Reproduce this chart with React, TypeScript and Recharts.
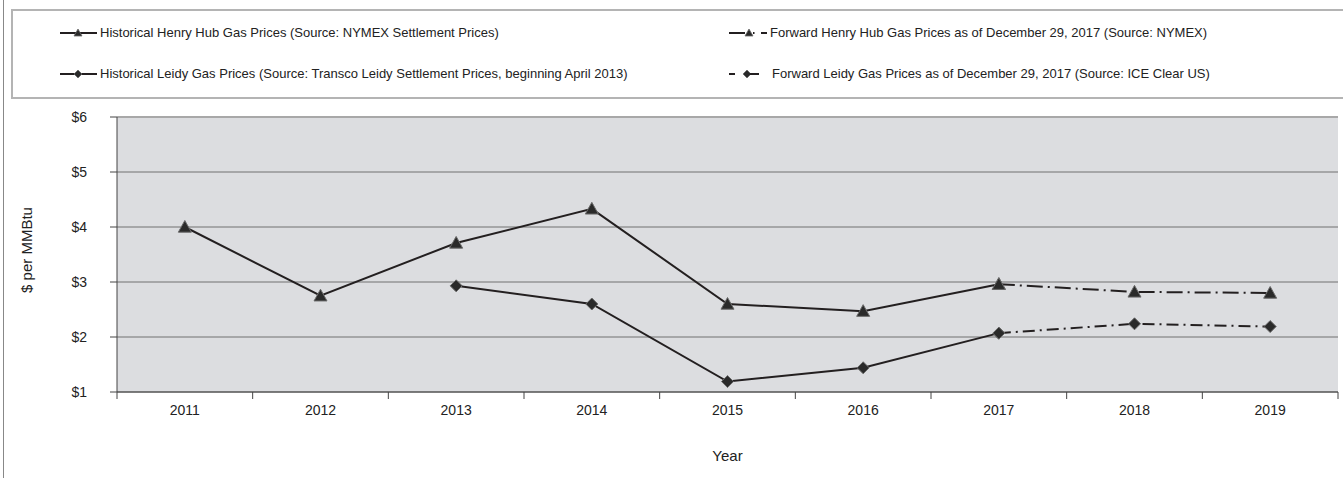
import React from 'react';
import { ComposedChart, Line, XAxis, YAxis, CartesianGrid, ReferenceLine } from 'recharts';

const years = ['2011', '2012', '2013', '2014', '2015', '2016', '2017', '2018', '2019'];
const henryHistorical = [4.0, 2.75, 3.71, 4.33, 2.6, 2.47, 2.96, null, null];
const leidyHistorical = [null, null, 2.93, 2.6, 1.19, 1.44, 2.07, null, null];
const henryForward = [null, null, null, null, null, null, 2.96, 2.82, 2.8];
const leidyForward = [null, null, null, null, null, null, 2.07, 2.24, 2.19];
const yTicks = [1, 2, 3, 4, 5, 6];

const legendLabels = {
  henryHist: 'Historical Henry Hub Gas Prices (Source: NYMEX Settlement Prices)',
  leidyHist: 'Historical Leidy Gas Prices (Source: Transco Leidy Settlement Prices, beginning April 2013)',
  henryFwd: 'Forward Henry Hub Gas Prices as of December 29, 2017 (Source: NYMEX)',
  leidyFwd: 'Forward Leidy Gas Prices as of December 29, 2017 (Source: ICE Clear US)',
};

const data = years.map((year, i) => ({
  year,
  henryHist: henryHistorical[i],
  leidyHist: leidyHistorical[i],
  henryFwd: henryForward[i],
  leidyFwd: leidyForward[i],
}));

const W = 1343;
const H = 478;
const PLOT_LEFT = 117;
const PLOT_RIGHT = 1338;
const PLOT_TOP = 117;
const PLOT_BOTTOM = 392;
const FONT = '"Liberation Sans", Arial, sans-serif';
const LINE = '#231f20';
const MARK_FILL = '#2a2a2a';
const MARK_STROKE = '#6a6a6a';

const Triangle = (props: any) => {
  const { cx, cy, index } = props;
  if (cx == null || cy == null || props.value == null) return <g key={`t${index}`} />;
  const s = 6.5;
  return (
    <polygon
      key={`t${index}`}
      points={`${cx},${cy - s} ${cx - s},${cy + s * 0.8} ${cx + s},${cy + s * 0.8}`}
      fill={MARK_FILL}
      stroke={MARK_STROKE}
      strokeWidth={1}
    />
  );
};

const Diamond = (props: any) => {
  const { cx, cy, index } = props;
  if (cx == null || cy == null || props.value == null) return <g key={`d${index}`} />;
  const s = 6;
  return (
    <polygon
      key={`d${index}`}
      points={`${cx},${cy - s} ${cx + s},${cy} ${cx},${cy + s} ${cx - s},${cy}`}
      fill={MARK_FILL}
      stroke={MARK_STROKE}
      strokeWidth={1}
    />
  );
};

const XTick = (props: any) => {
  const { x, y, payload, index } = props;
  const band = (PLOT_RIGHT - PLOT_LEFT) / years.length;
  return (
    <g>
      <line x1={x - band / 2} x2={x - band / 2} y1={y} y2={y + 7} stroke="#444" strokeWidth={1} />
      {index === years.length - 1 && (
        <line x1={x + band / 2} x2={x + band / 2} y1={y} y2={y + 7} stroke="#444" strokeWidth={1} />
      )}
      <text x={x} y={y + 23} textAnchor="middle" fontSize={14} fill="#222" fontFamily={FONT}>
        {payload.value}
      </text>
    </g>
  );
};

const YTick = (props: any) => {
  const { y, payload } = props;
  return (
    <text x={PLOT_LEFT - 30} y={y + 5} textAnchor="end" fontSize={14} fill="#222" fontFamily={FONT}>
      {`$${payload.value}`}
    </text>
  );
};

const LegendTri = ({ x, y }: { x: number; y: number }) => (
  <polygon points={`${x},${y - 4} ${x - 4},${y + 3} ${x + 4},${y + 3}`} fill={MARK_FILL} stroke={MARK_STROKE} strokeWidth={0.8} />
);
const LegendDia = ({ x, y }: { x: number; y: number }) => (
  <polygon points={`${x},${y - 4} ${x + 4},${y} ${x},${y + 4} ${x - 4},${y}`} fill={MARK_FILL} stroke={MARK_STROKE} strokeWidth={0.8} />
);

const textStyle: React.CSSProperties = {
  position: 'absolute',
  fontFamily: FONT,
  fontSize: 13,
  color: '#222',
  whiteSpace: 'nowrap',
  lineHeight: '14px',
};

export default function App() {
  const midY = 250;
  return (
    <div style={{ position: 'absolute', left: 0, top: 0, width: W, height: H, background: '#fff', overflow: 'hidden' }}>
      <div style={{ position: 'absolute', left: 3, top: 0, width: 1, height: H, background: '#888' }} />
      <div
        style={{
          position: 'absolute',
          left: 11,
          top: 9,
          width: W,
          height: 86,
          borderTop: '2px solid #b4b4b4',
          borderLeft: '2px solid #b4b4b4',
          borderBottom: '2px solid #b4b4b4',
        }}
      />
      <svg style={{ position: 'absolute', left: 0, top: 0 }} width={W} height={100}>
        <line x1={60} x2={97} y1={33} y2={33} stroke={LINE} strokeWidth={2} />
        <LegendTri x={78} y={33} />
        <line x1={60} x2={97} y1={74} y2={74} stroke={LINE} strokeWidth={2} />
        <LegendDia x={78} y={74} />
        <line x1={729} x2={745} y1={33} y2={33} stroke={LINE} strokeWidth={2} />
        <LegendTri x={749} y={33} />
        <line x1={753} x2={754.5} y1={33} y2={33} stroke={LINE} strokeWidth={2} />
        <line x1={761} x2={767} y1={33} y2={33} stroke={LINE} strokeWidth={2} />
        <line x1={729} x2={735} y1={74} y2={74} stroke={LINE} strokeWidth={2} />
        <LegendDia x={747} y={74} />
        <line x1={750} x2={759} y1={74} y2={74} stroke={LINE} strokeWidth={2} />
      </svg>
      <div style={{ ...textStyle, left: 100, top: 26 }}>{legendLabels.henryHist}</div>
      <div style={{ ...textStyle, left: 100, top: 67 }}>{legendLabels.leidyHist}</div>
      <div style={{ ...textStyle, left: 770, top: 26 }}>{legendLabels.henryFwd}</div>
      <div style={{ ...textStyle, left: 772, top: 67 }}>{legendLabels.leidyFwd}</div>

      <div style={{ position: 'absolute', left: 0, top: 0 }}>
        <ComposedChart
          width={W}
          height={H}
          data={data}
          margin={{ top: PLOT_TOP, right: W - PLOT_RIGHT, left: 0, bottom: 0 }}
        >
          <CartesianGrid vertical={false} fill="#dcdde0" stroke="#707070" strokeWidth={1} />
          <ReferenceLine y={6} stroke="#a8a8a8" strokeWidth={2} />
          <XAxis
            dataKey="year"
            scale="band"
            height={H - PLOT_BOTTOM}
            interval={0}
            tickSize={0}
            tickMargin={0}
            tickLine={false}
            axisLine={{ stroke: '#444', strokeWidth: 1 }}
            tick={<XTick />}
            label={() => (
              <text
                x={(PLOT_LEFT + PLOT_RIGHT) / 2}
                y={461}
                textAnchor="middle"
                fontSize={15}
                fill="#222"
                fontFamily={FONT}
              >
                Year
              </text>
            )}
          />
          <YAxis
            type="number"
            width={PLOT_LEFT}
            domain={[1, 6]}
            ticks={yTicks}
            interval={0}
            tickSize={7}
            tickLine={{ stroke: '#444' }}
            axisLine={{ stroke: '#444', strokeWidth: 1 }}
            tick={<YTick />}
            label={() => (
              <text
                x={32}
                y={midY}
                transform={`rotate(-90, 32, ${midY})`}
                textAnchor="middle"
                fontSize={15}
                fill="#222"
                fontFamily={FONT}
              >
                $ per MMBtu
              </text>
            )}
          />
          <Line
            dataKey="henryFwd"
            stroke={LINE}
            strokeWidth={2}
            strokeDasharray="16 5 2 5"
            dot={<Triangle />}
            activeDot={false}
            isAnimationActive={false}
            connectNulls={false}
          />
          <Line
            dataKey="leidyFwd"
            stroke={LINE}
            strokeWidth={2}
            strokeDasharray="12 5 2 5"
            dot={<Diamond />}
            activeDot={false}
            isAnimationActive={false}
            connectNulls={false}
          />
          <Line
            dataKey="henryHist"
            stroke={LINE}
            strokeWidth={2}
            dot={<Triangle />}
            activeDot={false}
            isAnimationActive={false}
            connectNulls={false}
          />
          <Line
            dataKey="leidyHist"
            stroke={LINE}
            strokeWidth={2}
            dot={<Diamond />}
            activeDot={false}
            isAnimationActive={false}
            connectNulls={false}
          />
        </ComposedChart>
      </div>
    </div>
  );
}
